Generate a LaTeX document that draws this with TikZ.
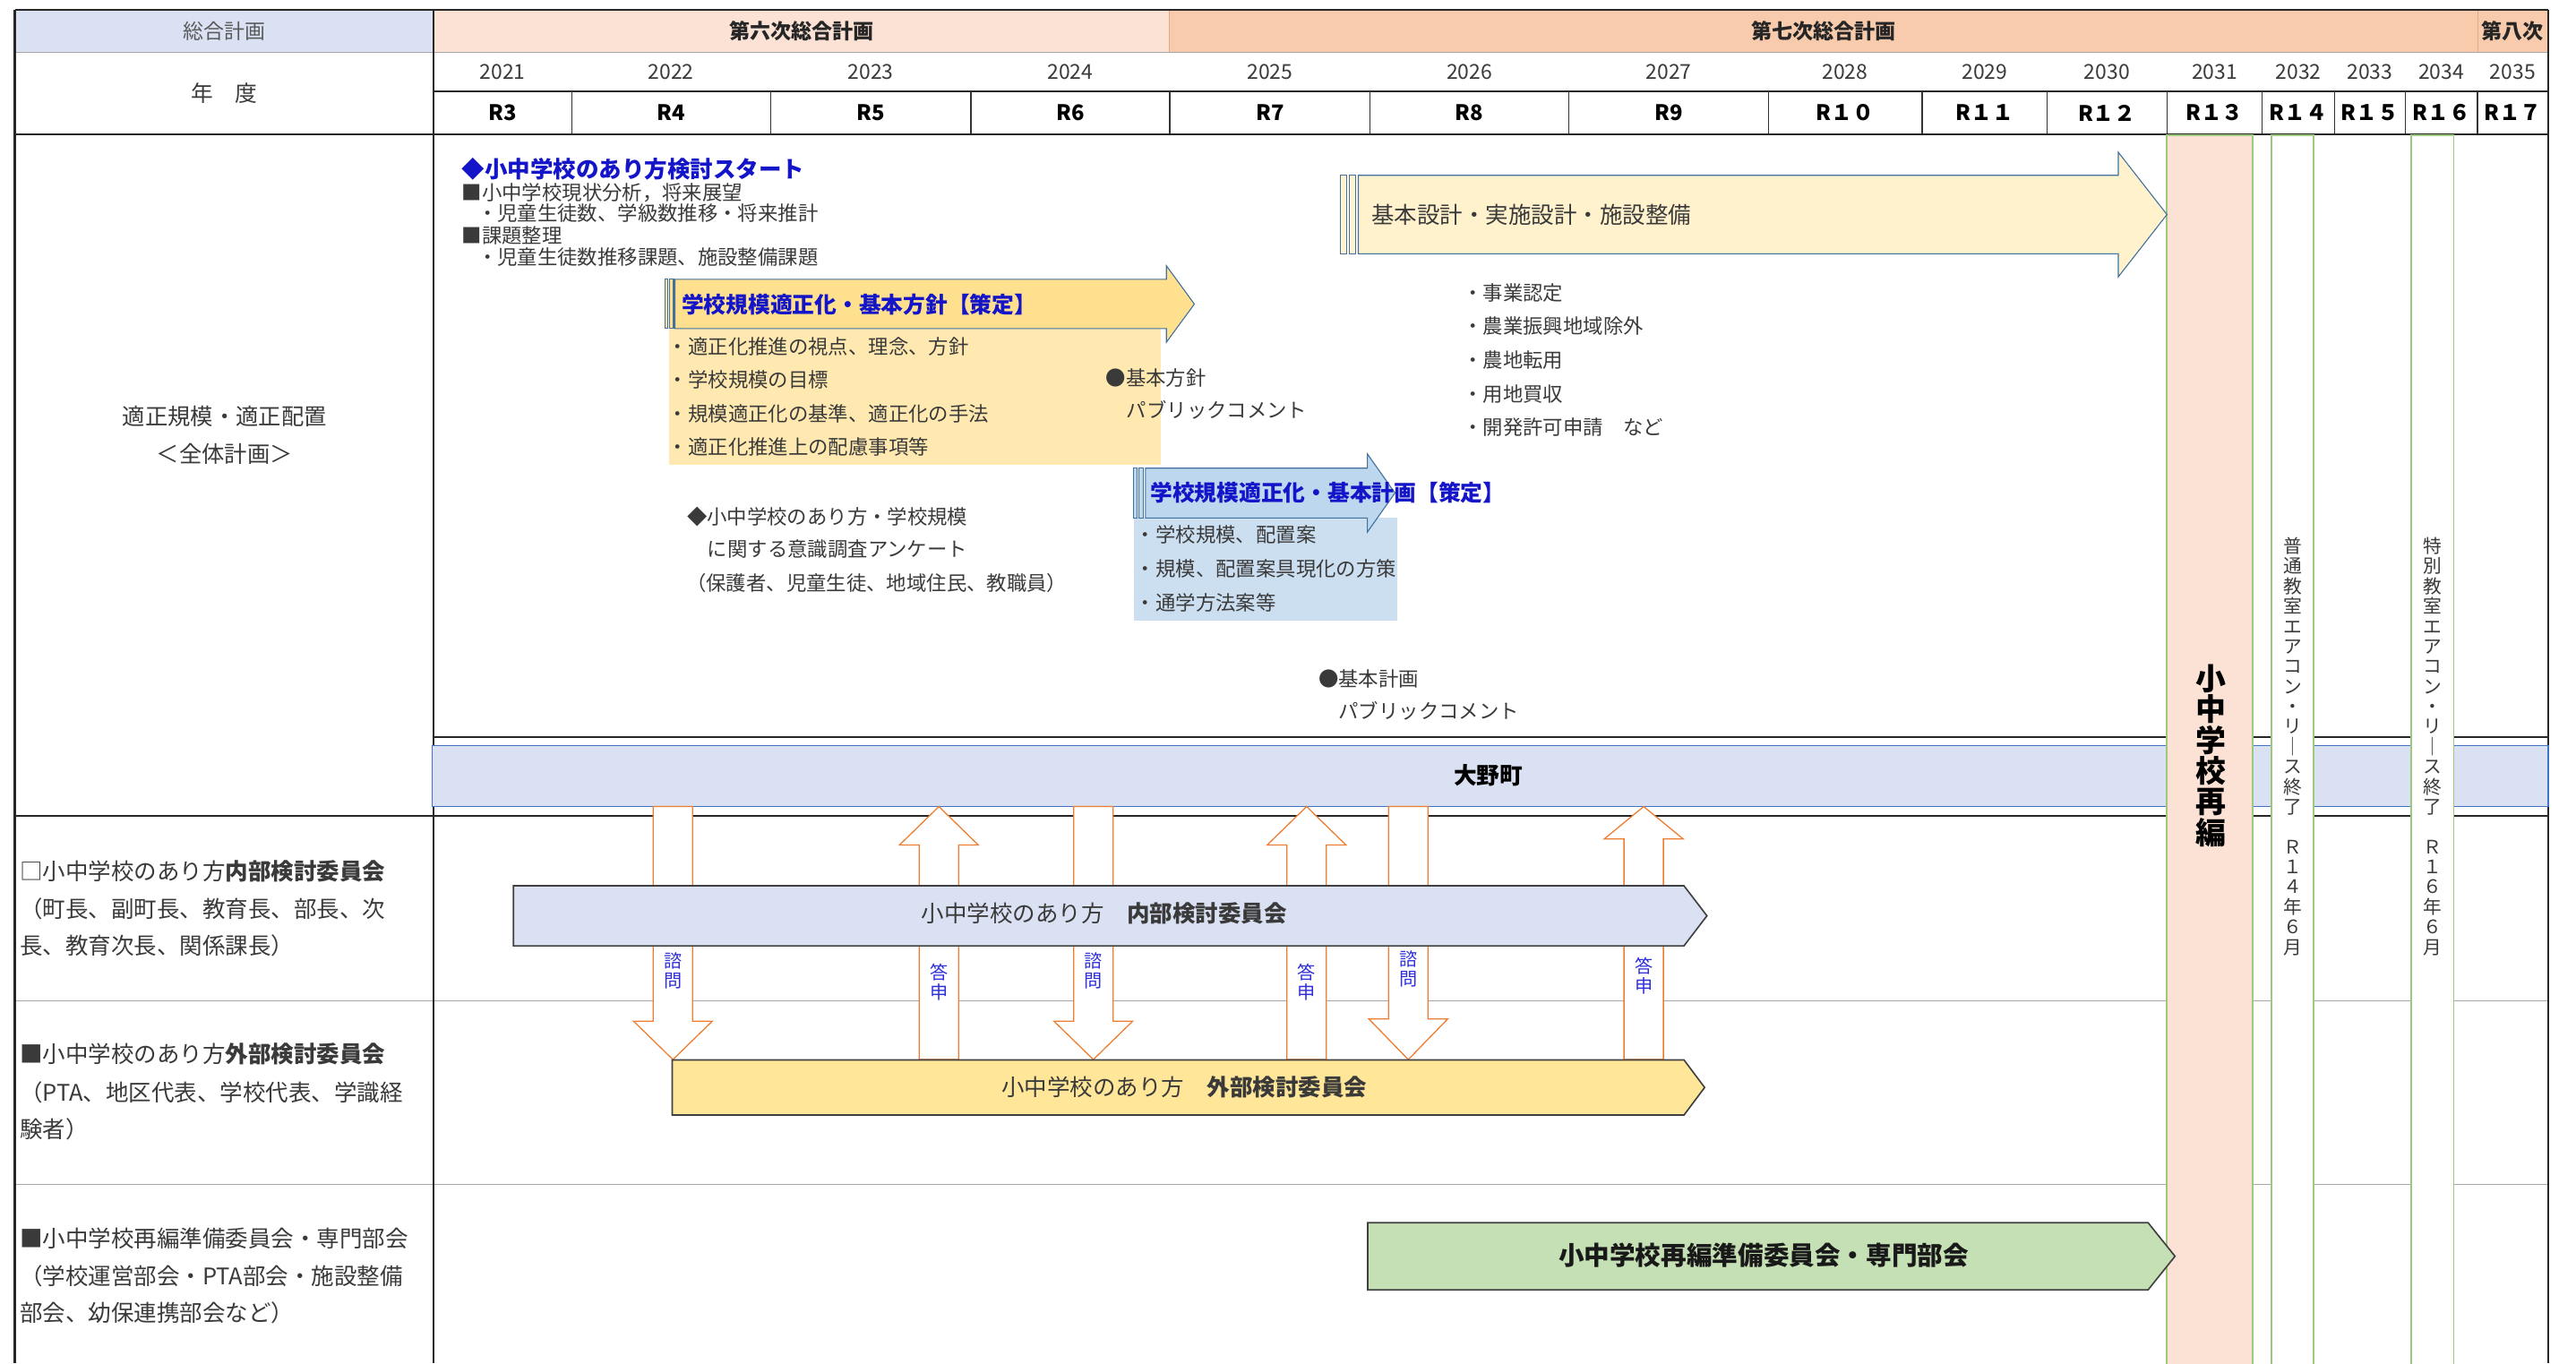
\documentclass[tikz,border=0pt]{standalone}
\usepackage{fontspec}
\setmainfont{Noto Sans CJK JP}
\definecolor{hdrblue}{HTML}{D9E1F2}
\definecolor{peachA}{HTML}{FBE2D5}
\definecolor{peachB}{HTML}{F8CBAD}
\definecolor{peachLine}{HTML}{E2AC8A}
\definecolor{txtc}{HTML}{3A3A3A}
\definecolor{graytxt}{HTML}{595959}
\definecolor{ttlblue}{HTML}{1414C8}
\definecolor{smblue}{HTML}{2E2EDC}
\definecolor{arrline}{HTML}{41719C}
\definecolor{yelArr}{HTML}{FFE08F}
\definecolor{yelBox}{HTML}{FFE9B1}
\definecolor{bluArr}{HTML}{BDD7EE}
\definecolor{bluBox}{HTML}{CCDFF1}
\definecolor{creamArr}{HTML}{FFF2CC}
\definecolor{bandfill}{HTML}{DAE1F2}
\definecolor{bandline}{HTML}{4472C4}
\definecolor{orangeL}{HTML}{ED7D31}
\definecolor{greenL}{HTML}{9CC97E}
\definecolor{greenF}{HTML}{C5E0B4}
\definecolor{yelPent}{HTML}{FFE699}
\definecolor{pentLine}{HTML}{404040}
\newcommand\blkarrow[4]{% cx, start y, head base y, tip y
  \draw[blk] (#1-12,#2) -- (#1-12,#3) -- (#1-24,#3) -- (#1,#4) -- (#1+24,#3) -- (#1+12,#3) -- (#1+12,#2) -- cycle;}
\tikzset{
  thickl/.style={line width=1.2pt, black!85},
  midl/.style={line width=0.7pt, black!80},
  thinl/.style={line width=0.6pt, black!35},
  tx/.style={inner sep=0pt, text=txtc},
  lst/.style={tx, anchor=west, font=\fontsize{12.2}{13.1}\selectfont},
  lft/.style={tx, anchor=west, font=\fontsize{13.9}{15}\selectfont},
  yr/.style={tx, font=\fontsize{12.5}{13}\selectfont},
  rl/.style={tx, text=black, font=\bfseries\fontsize{13}{14}\selectfont},
  hd/.style={tx, text=black!85, font=\bfseries\fontsize{12.6}{13}\selectfont},
  ttl/.style={inner sep=0pt, anchor=west, text=ttlblue, font=\bfseries\fontsize{13.5}{14}\selectfont},
  ya/.style={fill=yelArr, draw=arrline, line width=0.6pt},
  ba/.style={fill=bluArr, draw=arrline, line width=0.6pt},
  ca/.style={fill=creamArr, draw=arrline, line width=0.6pt},
  blk/.style={fill=white, draw=orangeL, line width=0.7pt},
  pent/.style={draw=pentLine, line width=0.9pt},
  vt/.style={inner sep=0pt, text=smblue, align=center, font=\fontsize{11}{12}\selectfont},
  colr/.style={draw=greenL, line width=0.9pt},
}
\begin{document}
\begin{tikzpicture}[x=1pt,y=-1pt]
\useasboundingbox (0,0) rectangle (1568,830);
\fill[white] (0,0) rectangle (1568,830);

% ---------- header fills
\fill[hdrblue] (9,6) rectangle (264,31.8);
\fill[peachA] (264,6) rectangle (712,31.8);
\fill[peachB] (712,6) rectangle (1551,31.8);
\draw[peachLine, line width=0.5pt] (712,6) -- (712,31.8);
\draw[peachLine, line width=0.5pt] (1508,6) -- (1508,31.8);

% ---------- table lines
\draw[thinl] (9,31.8) -- (1551,31.8);
\draw[thickl] (264,55.6) -- (1551,55.6);
\foreach \xx in {348,469,591,712,834,955,1076.5,1170,1246,1319,1377,1421,1464,1508}
  \draw[midl] (\xx,55.6) -- (\xx,81.8);
\draw[thickl] (9,81.8) -- (1551,81.8);
\draw[thickl] (264,448.6) -- (1551,448.6);
\draw[thickl] (9,496.5) -- (1551,496.5);
\draw[thinl] (9,609.3) -- (1551,609.3);
\draw[thinl] (9,721) -- (1551,721);
\draw[thickl] (9,6) -- (1551,6);
\draw[thickl] (264,6) -- (264,830);
\draw[thickl] (9,6) -- (9,830);
\draw[thickl] (1551,6) -- (1551,830);

% ---------- header texts
\node[tx, text=graytxt, font=\fontsize{12.5}{13}\selectfont] (sogo) at (136.5,18.8) {総合計画};
\node[tx, font=\fontsize{13.5}{14}\selectfont] (nendo) at (136.5,57) {年　度};
\node[hd] (dai6) at (488,18.8) {第六次総合計画};
\node[hd] (dai7) at (1110,18.8) {第七次総合計画};
\node[hd] (dai8) at (1529.5,18.8) {第八次};
\foreach \yy/\xx in {2021/306,2022/408.5,2023/530,2024/651.5,2025/773,2026/894.5,2027/1015.8,2028/1123,2029/1208,2030/1282.5,2031/1348,2032/1399,2033/1442.5,2034/1486,2035/1529.5}
  \node[yr] (y\yy) at (\xx,43.6) {\yy};
\foreach \nn/\lab/\xx in {3/R3/306,4/R4/408.5,5/R5/530,6/R6/651.5,7/R7/773,8/R8/894.5,9/R9/1015.8,10/R１０/1123,11/R１１/1208,12/R１２/1282.5,13/R１３/1348,14/R１４/1399,15/R１５/1442.5,16/R１６/1486,17/R１７/1529.5}
  \node[rl] (r\nn) at (\xx,68.7) {\lab};

% ---------- left column labels
\node[tx, align=center, font=\fontsize{13.8}{22.8}\selectfont] (tekisei) at (136.7,264.9) {適正規模・適正配置\\＜全体計画＞};
\node[lft] (naibu1) at (12,530.6) {□小中学校のあり方\textbf{内部検討委員会}};
\node[lft] (naibu2) at (12,553.2) {（町長、副町長、教育長、部長、次};
\node[lft] (naibu3) at (12,575.8) {長、教育次長、関係課長）};
\node[lft] (gaibu1) at (12,641.6) {■小中学校のあり方\textbf{外部検討委員会}};
\node[lft] (gaibu2) at (12,664.9) {（PTA、地区代表、学校代表、学識経};
\node[lft] (gaibu3) at (12,687.3) {験者）};
\node[lft] (jun1) at (12,753.7) {■小中学校再編準備委員会・専門部会};
\node[lft] (jun2) at (12,777) {（学校運営部会・PTA部会・施設整備};
\node[lft] (jun3) at (12,799.4) {部会、幼保連携部会など）};

% ---------- band
\draw[fill=bandfill, draw=bandline, line width=0.8pt] (263,454) rectangle (1551,491);
\node[tx, text=black, font=\bfseries\fontsize{14}{15}\selectfont] (ono) at (906,472) {大野町};

% ---------- column rectangles
\draw[colr, fill=peachA] (1319,82.5) rectangle (1371,831);
\draw[colr, fill=white] (1382.6,82.5) rectangle (1408.4,831);
\draw[colr, fill=white] (1467.6,82.5) rectangle (1493.6,831);
\node[inner sep=0pt, text=black, align=center, font=\bfseries\fontsize{18.5}{18.7}\selectfont] (saihen) at (1345.8,460) {小\\中\\学\\校\\再\\編};
\node[inner sep=0pt, text=txtc, align=center, font=\fontsize{11.3}{12.2}\selectfont] (r14txt) at (1395.8,454.4) {普\\通\\教\\室\\エ\\ア\\コ\\ン\\・\\リ\\｜\\ス\\終\\了\\\mbox{}\\Ｒ\\１\\４\\年\\６\\月};
\node[inner sep=0pt, text=txtc, align=center, font=\fontsize{11.3}{12.2}\selectfont] (r16txt) at (1480.8,454.4) {特\\別\\教\\室\\エ\\ア\\コ\\ン\\・\\リ\\｜\\ス\\終\\了\\\mbox{}\\Ｒ\\１\\６\\年\\６\\月};

% ---------- top area texts
\node[inner sep=0pt, anchor=west, text=ttlblue, font=\bfseries\fontsize{13.9}{14}\selectfont] (start) at (281,103.2) {◆小中学校のあり方検討スタート};
\node[lst] (gen1) at (281,117.2) {■小中学校現状分析，将来展望};
\node[lst] (gen2) at (290.4,130) {・児童生徒数、学級数推移・将来推計};
\node[lst] (gen3) at (281,143.2) {■課題整理};
\node[lst] (gen4) at (290.4,156.3) {・児童生徒数推移課題、施設整備課題};

% yellow box + striped arrow (基本方針)
\fill[yelBox] (407.5,200) rectangle (706.8,283);
\draw[ya] (404.6,170) rectangle (406.6,200);
\draw[ya] (407.6,170) rectangle (410,200);
\draw[ya] (410.8,170) -- (710,170) -- (710,161.8) -- (727,185.1) -- (710,208.3) -- (710,200) -- (410.8,200) -- cycle;
\node[ttl] (hoshin) at (414.7,185.4) {学校規模適正化・基本方針【策定】};
\node[lst] (h1) at (406.5,211.2) {・適正化推進の視点、理念、方針};
\node[lst] (h2) at (406.5,231.2) {・学校規模の目標};
\node[lst] (h3) at (406.5,251.7) {・規模適正化の基準、適正化の手法};
\node[lst] (h4) at (406.5,272.3) {・適正化推進上の配慮事項等};
\node[lst] (pc1a) at (673,229.9) {●基本方針};
\node[lst] (pc1b) at (685.6,249.8) {パブリックコメント};

% cream striped arrow (基本設計)
\draw[ca] (815.7,106.7) rectangle (819.8,154.5);
\draw[ca] (821.2,106.7) rectangle (825.3,154.5);
\draw[ca] (826.8,106.7) -- (1289.4,106.7) -- (1289.4,92.7) -- (1319,130.6) -- (1289.4,168.5) -- (1289.4,154.5) -- (826.8,154.5) -- cycle;
\node[tx, anchor=west, font=\fontsize{13.9}{14}\selectfont] (sekkei) at (834.6,130.5) {基本設計・実施設計・施設整備};
\node[lst] (s1) at (890.3,178.1) {・事業認定};
\node[lst] (s2) at (890.3,198.6) {・農業振興地域除外};
\node[lst] (s3) at (890.3,219.4) {・農地転用};
\node[lst] (s4) at (890.3,239.9) {・用地買収};
\node[lst] (s5) at (890.3,260.3) {・開発許可申請　など};

% blue box + striped arrow (基本計画)
\fill[bluBox] (690.3,315.3) rectangle (850.3,377.7);
\draw[ba] (690,285) rectangle (692.2,315.3);
\draw[ba] (693.4,285) rectangle (696,315.3);
\draw[ba] (697.2,285) -- (832.3,285) -- (832.3,276.3) -- (849.1,300.1) -- (832.3,323.9) -- (832.3,315.3) -- (697.2,315.3) -- cycle;
\node[ttl] (keikaku) at (700,299.9) {学校規模適正化・基本計画【策定】};
\node[lst] (k1) at (691.1,325.7) {・学校規模、配置案};
\node[lst] (k2) at (691.1,346.2) {・規模、配置案具現化の方策};
\node[lst] (k3) at (691.1,366.8) {・通学方法案等};

% survey texts
\node[lst] (q1) at (418,314.4) {◆小中学校のあり方・学校規模};
\node[lst] (q2) at (430.5,334.4) {に関する意識調査アンケート};
\node[lst] (q3) at (417.5,354.8) {（保護者、児童生徒、地域住民、教職員）};
\node[lst] (pc2a) at (802.4,413.1) {●基本計画};
\node[lst] (pc2b) at (814.6,433) {パブリックコメント};

% ---------- block arrows (諮問 / 答申)
\blkarrow{409.6}{491}{621.6}{645}
\blkarrow{571.5}{645}{514.4}{491}
\blkarrow{665.5}{491}{621.6}{645}
\blkarrow{795.3}{645}{514.4}{491}
\blkarrow{857.2}{491}{620.3}{645}
\blkarrow{1000.5}{645}{510.7}{491}
\node[vt] (sh1) at (409.6,591) {諮\\問};
\node[vt] (to1) at (571.5,598) {答\\申};
\node[vt] (sh2) at (665.5,591) {諮\\問};
\node[vt] (to2) at (795.3,598) {答\\申};
\node[vt] (sh3) at (857.2,590) {諮\\問};
\node[vt] (to3) at (1000.5,594) {答\\申};

% ---------- committee pentagons
\draw[pent, fill=bandfill] (312.5,539.2) -- (1025,539.2) -- (1039,557.5) -- (1025,575.8) -- (312.5,575.8) -- cycle;
\node[tx, font=\fontsize{13.9}{14}\selectfont] (naibuA) at (672,556) {小中学校のあり方　\textbf{内部検討委員会}};
\draw[pent, fill=yelPent] (409.2,645.2) -- (1025,645.2) -- (1037.6,662) -- (1025,678.8) -- (409.2,678.8) -- cycle;
\node[tx, font=\fontsize{13.9}{14}\selectfont] (gaibuA) at (720.8,661.6) {小中学校のあり方　\textbf{外部検討委員会}};
\draw[pent, fill=greenF] (832.5,744.3) -- (1307.5,744.3) -- (1323.9,764.75) -- (1307.5,785.2) -- (832.5,785.2) -- cycle;
\node[tx, text=black!90, font=\bfseries\fontsize{15.6}{16}\selectfont] (junbiA) at (1073.5,764.3) {小中学校再編準備委員会・専門部会};
\end{tikzpicture}
\end{document}
